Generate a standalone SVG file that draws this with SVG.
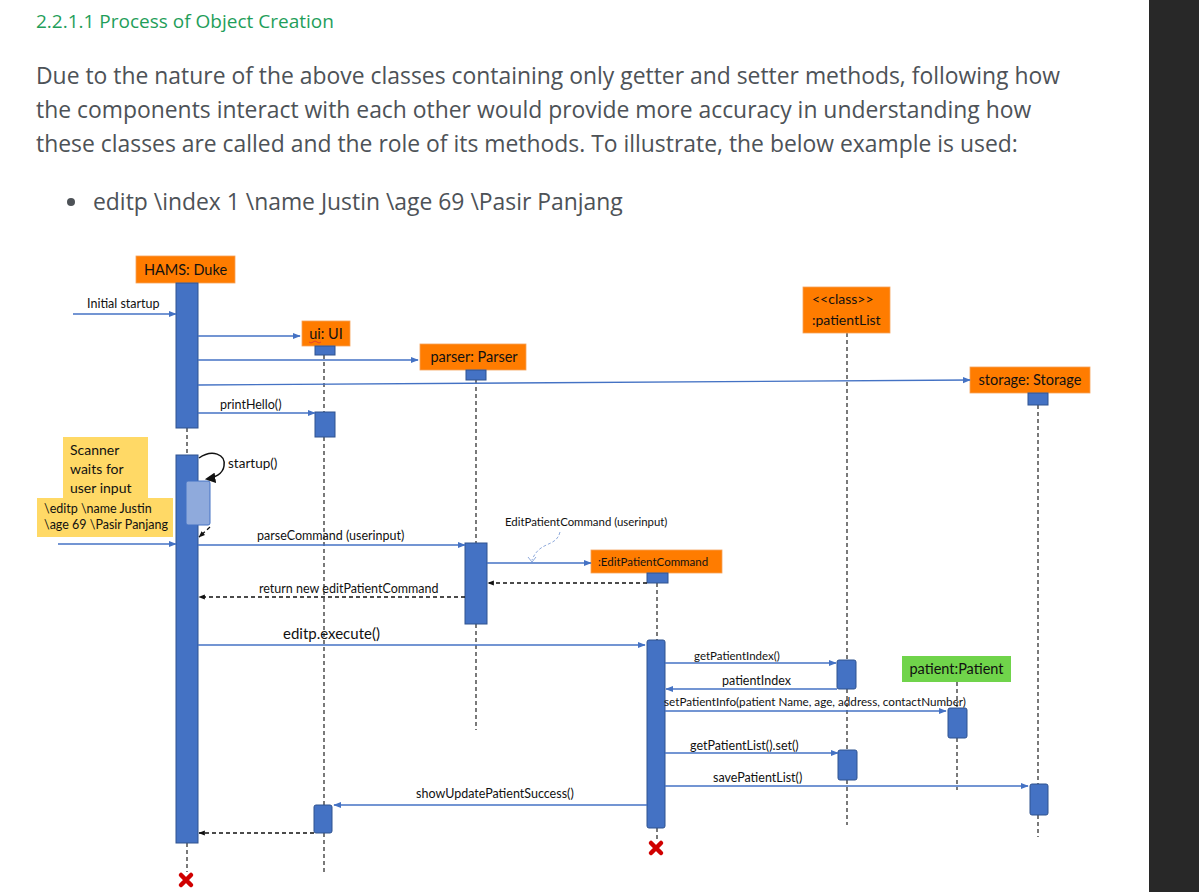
<svg xmlns="http://www.w3.org/2000/svg" width="1199" height="892" viewBox="0 0 1199 892">
<defs>
<style>
.hdr{font-family:"Open Sans","Noto Sans",sans-serif;fill:#1f9e5a;font-size:19px}
.para{font-family:"Open Sans","Noto Sans",sans-serif;fill:#4d5257;font-size:22.9px}
.lbl{font-family:Lato,"Liberation Sans",sans-serif;fill:#111;font-size:12.5px}
.obj{font-family:Lato,"Liberation Sans",sans-serif;fill:#111;font-size:14.5px}
.box{fill:#ff7c00;stroke:#f4a25a;stroke-width:0.8}
.act{fill:#4472c4;stroke:#2f528f;stroke-width:1}
.life{stroke:#222;stroke-width:1.2;stroke-dasharray:4,3;fill:none}
.msg{stroke:#4472c4;stroke-width:1.3;fill:none;marker-end:url(#ab)}
.ret{stroke:#111;stroke-width:1.3;stroke-dasharray:4,3;fill:none;marker-end:url(#ak)}
.note{fill:#ffd966}
.x{stroke:#d00000;stroke-width:4.5;stroke-linecap:round}
</style>
<marker id="ab" viewBox="0 0 10 10" refX="9" refY="5" markerWidth="6" markerHeight="6" orient="auto"><path d="M0,1 L10,5 L0,9 z" fill="#4472c4"/></marker>
<marker id="ak" viewBox="0 0 10 10" refX="9" refY="5" markerWidth="5" markerHeight="5" orient="auto"><path d="M0,1 L10,5 L0,9 z" fill="#111"/></marker>
<marker id="ak2" viewBox="0 0 10 10" refX="8" refY="5" markerWidth="7" markerHeight="7" orient="auto"><path d="M0,0 L10,5 L0,10 z" fill="#111"/></marker>
</defs>
<rect width="1199" height="892" fill="#fff"/>
<rect x="1149" y="0" width="50" height="892" fill="#282828"/>

<g id="text-block">
<text class="hdr" x="36" y="28">2.2.1.1 Process of Object Creation</text>
<text class="para" x="36" y="84">Due to the nature of the above classes containing only getter and setter methods, following how</text>
<text class="para" x="36" y="118">the components interact with each other would provide more accuracy in understanding how</text>
<text class="para" x="36" y="152">these classes are called and the role of its methods. To illustrate, the below example is used:</text>
<circle cx="71" cy="202" r="4" fill="#4d5257"/>
<text class="para" x="93" y="210">editp \index 1 \name Justin \age 69 \Pasir Panjang</text>
</g>

<g id="lifelines">
<path class="life" d="M187 428V455M187 843V872"/>
<path class="life" d="M324 355V412M324 437V805M324 833V872"/>
<path class="life" d="M476 380V543M476 624V730"/>
<path class="life" d="M657 583V640M657 828V840"/>
<path class="life" d="M847 333V660M847 689V750M847 780V825"/>
<path class="life" d="M957 682V708M957 738V790"/>
<path class="life" d="M1038 405V784M1038 815V837"/>
</g>

<g id="duke">
<rect class="box" x="136" y="256" width="99" height="27"/>
<text class="obj" x="185.500" y="275" text-anchor="middle">HAMS: Duke</text>
<rect class="act" x="176" y="283" width="22" height="145"/>
<rect class="act" x="176" y="455" width="22" height="388"/>
<rect x="186" y="481" width="24" height="44" rx="2" fill="#8faadc" stroke="#4472c4"/>
<path class="x" d="M181 875L191 885M191 875L181 885"/>
</g>

<g id="ui">
<rect class="box" x="302" y="321" width="48" height="25"/>
<text class="obj" x="326" y="339" text-anchor="middle">ui: UI</text>
<path d="M309 342q2 2 4 0t4 0t4 0" stroke="#d33" stroke-width="0.8" fill="none"/>
<rect class="act" x="315" y="346" width="20" height="9"/>
<rect class="act" x="315" y="412" width="20" height="25"/>
<rect class="act" x="314" y="805" width="18" height="28" rx="2"/>
</g>

<g id="parser">
<rect class="box" x="420" y="344" width="106" height="26"/>
<text class="obj" x="474" y="362" text-anchor="middle">parser: Parser</text>
<rect class="act" x="466" y="370" width="20" height="10"/>
<rect class="act" x="465" y="543" width="22" height="81"/>
</g>

<g id="patientList">
<rect class="box" x="803" y="287" width="87" height="46"/>
<text class="lbl" x="812" y="304" style="font-size:14px">&lt;&lt;class&gt;&gt;</text>
<text class="lbl" x="812" y="325" style="font-size:14px">:patientList</text>
<rect class="act" x="837" y="660" width="19" height="29" rx="2"/>
<rect class="act" x="838" y="750" width="19" height="30" rx="2"/>
</g>

<g id="storage">
<rect class="box" x="970" y="367" width="120" height="26"/>
<text class="obj" x="1030" y="385" text-anchor="middle">storage: Storage</text>
<rect class="act" x="1028" y="393" width="20" height="12"/>
<rect class="act" x="1030" y="784" width="18" height="31" rx="2"/>
</g>

<g id="editPatientCommand">
<rect class="box" x="591" y="550" width="131" height="23"/>
<text class="lbl" x="598" y="566" style="font-size:11.5px">:EditPatientCommand</text>
<rect class="act" x="647" y="573" width="21" height="10"/>
<rect class="act" x="647" y="640" width="18" height="188" rx="2"/>
<path class="x" d="M651 843L661 853M661 843L651 853"/>
</g>

<g id="patient">
<rect x="902" y="656" width="109" height="26" fill="#70d44b"/>
<text class="obj" x="956.500" y="674" text-anchor="middle">patient:Patient</text>
<rect class="act" x="948" y="708" width="19" height="30" rx="2"/>
</g>

<g id="notes">
<rect class="note" x="63" y="437" width="85" height="61"/>
<text class="obj" x="70" y="455" style="font-size:14px">Scanner</text>
<text class="obj" x="70" y="474" style="font-size:14px">waits for</text>
<text class="obj" x="70" y="493" style="font-size:14px">user input</text>
<rect class="note" x="37" y="498" width="136" height="39"/>
<text class="lbl" x="44" y="513">\editp \name Justin</text>
<text class="lbl" x="44" y="529">\age 69 \Pasir Panjang</text>
</g>

<g id="connectors">
<path class="msg" d="M73 314H176"/>
<text class="lbl" x="87" y="308">Initial startup</text>
<path class="msg" d="M198 336H300"/>
<path class="msg" d="M198 360H418"/>
<path class="msg" d="M198 385L970 380"/>
<path class="msg" d="M198 413H315"/>
<text class="lbl" x="220" y="409">printHello()</text>
<path d="M199 458C212 449 226 454 224 466C223 474 214 478 207 479" stroke="#111" stroke-width="1.5" fill="none" marker-end="url(#ak2)"/>
<text class="lbl" x="228" y="468" style="font-size:13.5px">startup()</text>
<path class="ret" d="M210 527L199 537"/>
<path class="msg" d="M58 544H176"/>
<path class="msg" d="M198 545H465"/>
<text class="lbl" x="257" y="540">parseCommand (userinput)</text>
<text class="lbl" x="505" y="526" style="font-size:11.4px">EditPatientCommand (userinput)</text>
<path d="M560 532C556 548 540 540 532 560" stroke="#8faadc" stroke-width="1" stroke-dasharray="3,2" fill="none"/>
<path d="M528 557L532 562L536 557" stroke="#8faadc" stroke-width="1" fill="none"/>
<path class="msg" d="M487 563H591"/>
<path class="ret" d="M647 583H488"/>
<path class="ret" d="M465 597H199"/>
<text class="lbl" x="259" y="593">return new editPatientCommand</text>
<path class="msg" d="M198 645H645"/>
<text class="lbl" x="283" y="639" style="font-size:15px">editp.execute()</text>
<path class="msg" d="M665 663H836"/>
<text class="lbl" x="694" y="660" style="font-size:11.5px">getPatientIndex()</text>
<path class="msg" d="M837 689H666"/>
<text class="lbl" x="722" y="685">patientIndex</text>
<path class="msg" d="M665 711H946"/>
<text class="lbl" x="664" y="706" style="font-size:11.7px">setPatientInfo(patient Name, age, address, contactNumber)</text>
<path class="msg" d="M665 753H838"/>
<text class="lbl" x="690" y="750">getPatientList().set()</text>
<path class="msg" d="M665 786H1028"/>
<text class="lbl" x="713" y="782">savePatientList()</text>
<path class="msg" d="M647 805H334"/>
<text class="lbl" x="416" y="798">showUpdatePatientSuccess()</text>
<path class="ret" d="M314 833H199"/>
</g>
</svg>
